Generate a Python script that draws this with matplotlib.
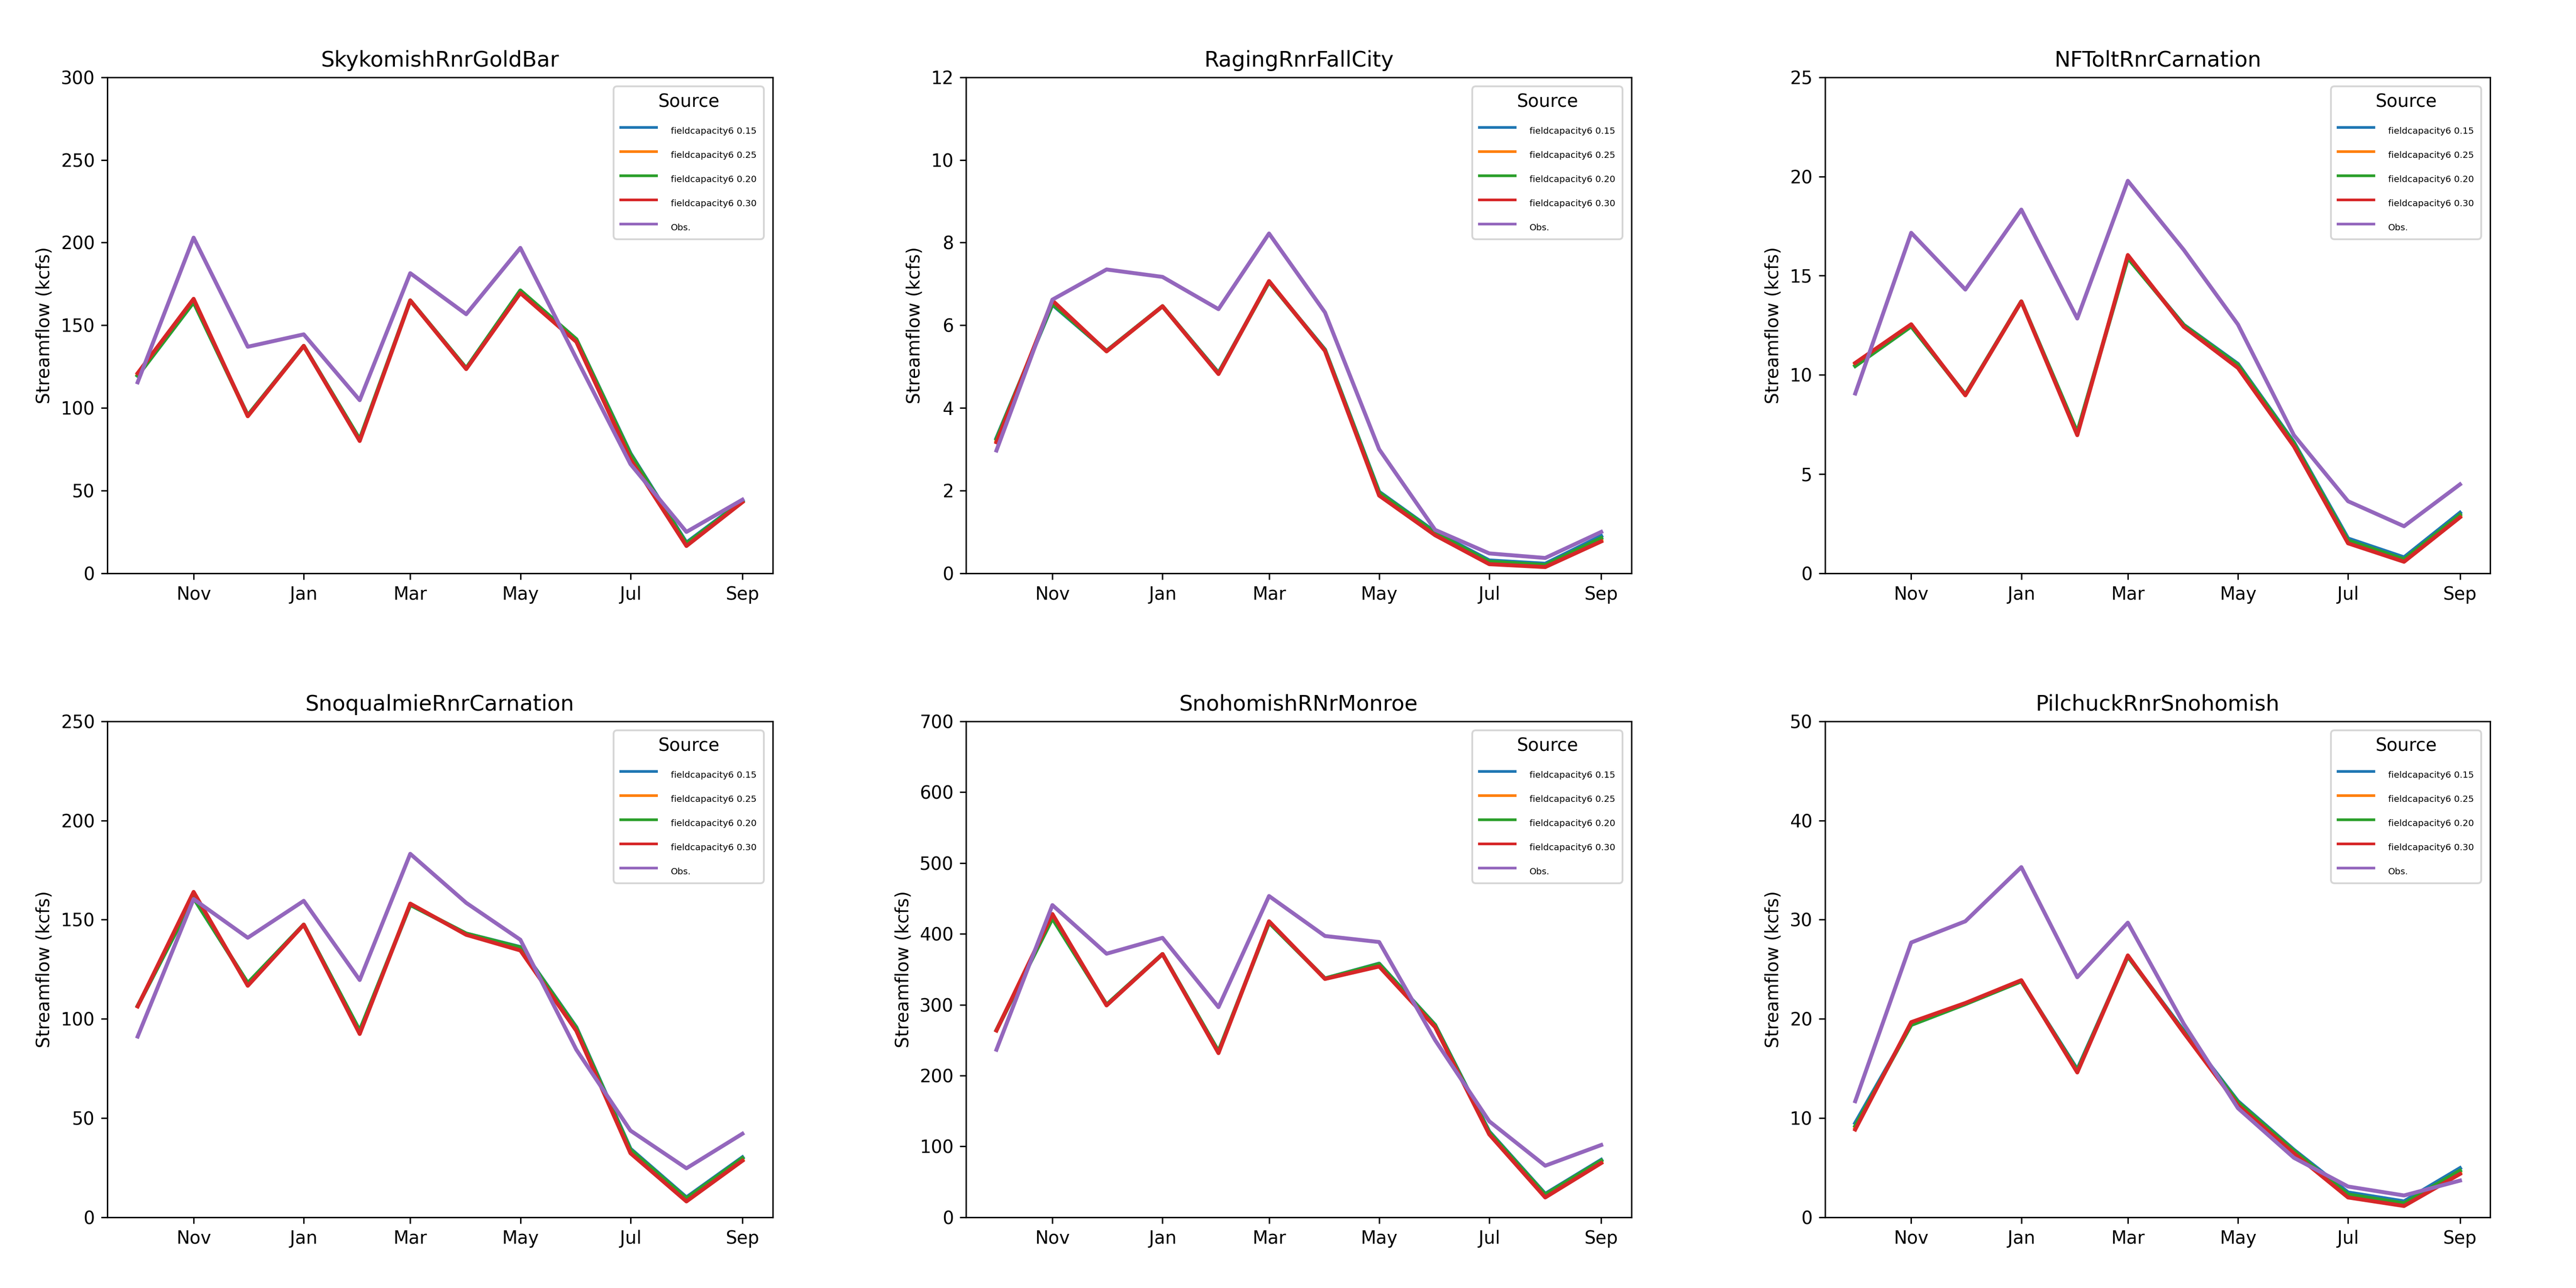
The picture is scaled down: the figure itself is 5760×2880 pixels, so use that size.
import matplotlib
matplotlib.use("Agg")
import matplotlib.pyplot as plt
import matplotlib.dates as mdates
import numpy as np

months = np.array(["2000-10-01", "2000-11-01", "2000-12-01", "2001-01-01", "2001-02-01",
                   "2001-03-01", "2001-04-01", "2001-05-01", "2001-06-01", "2001-07-01",
                   "2001-08-01", "2001-09-01"], dtype="datetime64[D]")

series_labels = ["fieldcapacity6 0.15", "fieldcapacity6 0.25", "fieldcapacity6 0.20",
                 "fieldcapacity6 0.30", "Obs."]
series_colors = ["#1f77b4", "#ff7f0e", "#2ca02c", "#d62728", "#9467bd"]

stations = ["SkykomishRnrGoldBar", "RagingRnrFallCity", "NFToltRnrCarnation",
            "SnoqualmieRnrCarnation", "SnohomishRNrMonroe", "PilchuckRnrSnohomish"]
ylims = [300, 12, 25, 250, 700, 50]

# Skykomish
sky_015 = [119.5, 164, 95.5, 137.5, 81, 165, 124, 171, 141.5, 72.5, 18.5, 43.8]
sky_025 = [120, 165, 95, 137.5, 80.5, 165, 123.7, 170, 140.5, 70.5, 17, 43.2]
sky_020 = [119.5, 164, 95.5, 137.5, 81, 165, 124, 171, 141.5, 72, 18, 43.5]
sky_030 = [121, 166, 95, 137.5, 80, 165, 123.5, 169.5, 140, 69, 16.5, 43]
sky_obs = [115.5, 203, 137, 144.5, 104.7, 181.5, 156.7, 196.8, 130, 66, 25, 44.5]

# Raging
rag_015 = [3.27, 6.5, 5.38, 6.46, 4.85, 7.05, 5.41, 1.97, 1.0, 0.31, 0.23, 0.9]
rag_025 = [3.2, 6.57, 5.37, 6.46, 4.83, 7.06, 5.39, 1.91, 0.95, 0.25, 0.17, 0.8]
rag_020 = [3.25, 6.52, 5.38, 6.46, 4.84, 7.05, 5.4, 1.95, 0.98, 0.28, 0.2, 0.85]
rag_030 = [3.17, 6.6, 5.37, 6.46, 4.82, 7.07, 5.38, 1.88, 0.92, 0.22, 0.15, 0.77]
rag_obs = [2.97, 6.62, 7.35, 7.17, 6.39, 8.22, 6.31, 3.0, 1.05, 0.48, 0.37, 1.0]

# NF Tolt
tol_015 = [10.45, 12.45, 9.0, 13.7, 7.1, 15.9, 12.52, 10.55, 6.6, 1.75, 0.8, 3.05]
tol_025 = [10.55, 12.5, 8.98, 13.7, 7.0, 16.0, 12.45, 10.4, 6.45, 1.56, 0.63, 2.87]
tol_020 = [10.45, 12.45, 9.0, 13.7, 7.1, 15.9, 12.5, 10.5, 6.55, 1.65, 0.7, 2.95]
tol_030 = [10.6, 12.55, 8.97, 13.7, 6.96, 16.04, 12.42, 10.35, 6.4, 1.51, 0.58, 2.82]
tol_obs = [9.06, 17.16, 14.3, 18.33, 12.84, 19.78, 16.3, 12.54, 6.96, 3.63, 2.37, 4.48]

# Snoqualmie
snq_015 = [106.5, 161, 118, 147.5, 94, 157.5, 143, 136.2, 95.8, 34.5, 10, 30.2]
snq_025 = [106.4, 163, 117, 147.5, 93, 158, 142.6, 135, 94.5, 32.8, 8.5, 28.9]
snq_020 = [106.5, 161, 118, 147.5, 94, 157.5, 143, 136, 95.5, 34, 9.5, 29.8]
snq_030 = [106.3, 164, 116.7, 147.5, 92.4, 158.1, 142.4, 134.5, 94, 32.3, 8, 28.5]
snq_obs = [91.1, 160.4, 140.9, 159.5, 119.6, 183.2, 158.5, 139.9, 84.5, 43.7, 24.7, 42.1]

# Snohomish
snh_015 = [264, 422, 300, 371.5, 234, 416, 337, 358, 271.5, 121, 33, 81]
snh_025 = [263.8, 426, 299.5, 371.5, 232.5, 417, 336.6, 355, 269, 118, 29.5, 77.5]
snh_020 = [264, 422, 300, 371.5, 234, 416, 337, 357.5, 271, 120, 32, 80]
snh_030 = [263.6, 428, 299, 371.5, 231.7, 417.8, 336.4, 354, 268.4, 117, 28, 76.5]
snh_obs = [236.5, 440.6, 372, 394.4, 296.6, 453.4, 397, 388.5, 250, 135.5, 72.8, 102]

# Pilchuck
pil_015 = [9.5, 19.4, 21.5, 23.8, 14.9, 26.3, 18.8, 11.7, 6.8, 2.5, 1.6, 4.95]
pil_025 = [9.0, 19.55, 21.55, 23.85, 14.7, 26.35, 18.65, 11.4, 6.55, 2.1, 1.25, 4.5]
pil_020 = [9.2, 19.4, 21.5, 23.8, 14.8, 26.3, 18.7, 11.6, 6.7, 2.3, 1.4, 4.7]
pil_030 = [8.85, 19.67, 21.6, 23.9, 14.6, 26.4, 18.6, 11.3, 6.45, 2.0, 1.14, 4.37]
pil_obs = [11.7, 27.7, 29.84, 35.3, 24.2, 29.7, 19.5, 11.0, 6.0, 3.1, 2.2, 3.7]

station_series = [
    [sky_015, sky_025, sky_020, sky_030, sky_obs],
    [rag_015, rag_025, rag_020, rag_030, rag_obs],
    [tol_015, tol_025, tol_020, tol_030, tol_obs],
    [snq_015, snq_025, snq_020, snq_030, snq_obs],
    [snh_015, snh_025, snh_020, snh_030, snh_obs],
    [pil_015, pil_025, pil_020, pil_030, pil_obs],
]

fig, axes = plt.subplots(2, 3, figsize=(20, 10), dpi=288)
fig.subplots_adjust(left=0.0417, right=0.9667, top=0.94, bottom=0.0549,
                    wspace=0.291, hspace=0.2985)

for ax, name, ymax, data in zip(axes.flat, stations, ylims, station_series):
    for vals, lab, col in zip(data, series_labels, series_colors):
        ax.plot(months, vals, color=col, label=lab, linewidth=2.2)
    ax.set_title(name)
    ax.set_ylabel("Streamflow (kcfs)")
    ax.set_ylim(0, ymax)
    ax.xaxis.set_major_locator(mdates.MonthLocator(bymonth=[1, 3, 5, 7, 9, 11]))
    ax.xaxis.set_major_formatter(mdates.DateFormatter("%b"))
    leg = ax.legend(title="Source", loc="upper right", labelspacing=0.55)
    for t in leg.get_texts():
        t.set_fontsize(5)
    for h in leg.legend_handles:
        h.set_linewidth(1.5)

fig.savefig("out.png", dpi=288)
